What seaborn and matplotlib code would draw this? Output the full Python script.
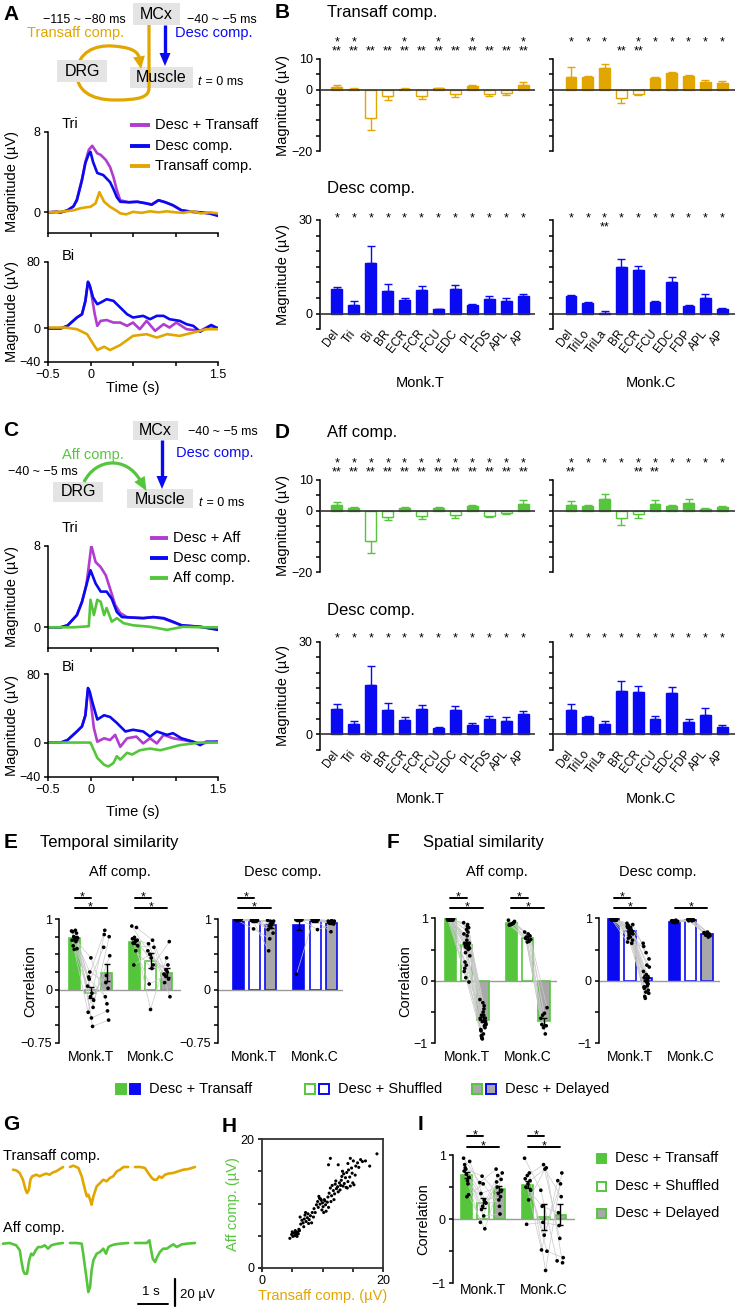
import numpy as np
import pandas as pd
import matplotlib
matplotlib.use("Agg")
import matplotlib.pyplot as plt
import seaborn as sns
from matplotlib.patches import Rectangle, Polygon, PathPatch
from matplotlib.path import Path
import matplotlib.transforms as mtransforms

# ======================= DATA =======================
# Panel A traces (time s, magnitude uV)
A_tri_sum_t = [-0.5,-0.4,-0.35,-0.27,-0.2,-0.16,-0.1,-0.06,-0.02,0.02,0.08,0.12,0.18,0.23,0.27,0.31,0.35,0.45,0.55,0.65,0.72,0.8,0.88,0.97,1.07,1.2,1.29,1.4,1.5]
A_tri_sum_v = [0.0,0.05,0.0,0.2,0.6,1.3,3.3,5.0,6.2,6.6,5.85,5.7,5.2,4.5,3.5,2.2,1.2,1.0,1.05,0.9,0.8,1.2,1.0,0.7,0.2,0.05,0.0,-0.1,-0.3]
A_tri_desc_t = [-0.5,-0.4,-0.35,-0.27,-0.2,-0.16,-0.1,-0.06,-0.02,0.0,0.03,0.08,0.15,0.23,0.27,0.31,0.35,0.45,0.55,0.65,0.72,0.8,0.88,0.97,1.07,1.2,1.29,1.4,1.5]
A_tri_desc_v = [0.0,0.05,0.0,0.2,0.6,1.2,3.2,4.9,5.8,6.0,5.0,3.9,3.7,3.0,2.3,1.5,1.05,1.0,1.05,0.9,0.75,1.2,1.0,0.7,0.2,0.05,0.0,-0.1,-0.35]
A_tri_tr_t = [-0.5,-0.3,-0.2,-0.12,-0.05,0.0,0.06,0.105,0.16,0.23,0.3,0.35,0.42,0.5,0.6,0.7,0.8,0.9,1.0,1.09,1.2,1.3,1.4,1.5]
A_tri_tr_v = [0.0,0.1,0.2,0.4,0.5,0.55,0.9,2.0,1.05,0.55,0.2,-0.1,-0.2,0.05,-0.05,0.1,0.0,0.1,0.0,-0.05,0.1,-0.1,0.0,-0.1]
A_bi_sum_t = [-0.5,-0.35,-0.27,-0.16,-0.1,-0.06,-0.03,0.0,0.05,0.08,0.12,0.19,0.27,0.35,0.43,0.5,0.58,0.66,0.76,0.86,0.93,1.01,1.13,1.29,1.4,1.5]
A_bi_sum_v = [0,0,3,13,17,33,55,48,17,3,9,10,7,7,3,7,-1,9,-3,5,1,7,-1,-3,3,0]
A_bi_desc_t = [-0.5,-0.35,-0.27,-0.16,-0.1,-0.06,-0.03,-0.01,0.03,0.08,0.12,0.19,0.27,0.35,0.43,0.5,0.62,0.7,0.78,0.86,0.93,1.05,1.13,1.21,1.29,1.36,1.42,1.5]
A_bi_desc_v = [0,0,3,13,17,33,56,52,37,29,31,35,33,25,17,13,15,11,15,15,11,9,5,3,-4,0,4,0]
A_bi_tr_t = [-0.5,-0.3,-0.16,-0.04,0.04,0.08,0.16,0.23,0.35,0.5,0.66,0.78,0.9,1.05,1.21,1.36,1.5]
A_bi_tr_v = [1,1,-1,-7,-20,-26,-22,-26,-20,-9,-7,-11,-7,-9,-5,-1,-1]

# Panel C traces
C_tri_sum_t = [-0.5,-0.35,-0.27,-0.16,-0.1,-0.05,-0.02,0.01,0.06,0.12,0.18,0.23,0.29,0.35,0.43,0.5,0.62,0.74,0.86,0.97,1.07,1.29,1.5]
C_tri_sum_v = [0,0,0.2,1.2,2.5,4.1,6.0,8.0,6.4,5.9,5.1,3.8,2.2,1.4,1.0,0.95,0.9,1.0,0.85,0.5,0.2,0.05,-0.2]
C_tri_desc_t = [-0.5,-0.35,-0.27,-0.16,-0.1,-0.05,0.0,0.06,0.12,0.19,0.25,0.31,0.37,0.5,0.62,0.74,0.86,0.97,1.07,1.29,1.5]
C_tri_desc_v = [0,0,0.2,1.2,2.5,4.1,5.6,4.3,3.5,3.5,2.8,1.5,1.0,0.95,0.9,1.0,0.9,0.55,0.2,0.05,-0.25]
C_tri_af_t = [-0.5,-0.2,-0.02,0.0,0.04,0.08,0.12,0.16,0.19,0.25,0.31,0.39,0.5,0.7,0.9,1.09,1.3,1.5]
C_tri_af_v = [0,0,0.1,2.7,1.2,2.7,2.5,1.2,1.9,0.55,0.9,0.4,0.2,0.05,-0.25,0.05,0.0,0.0]
C_bi_sum_t = [-0.5,-0.35,-0.27,-0.16,-0.1,-0.06,-0.03,-0.01,0.04,0.08,0.16,0.23,0.29,0.35,0.43,0.54,0.62,0.7,0.78,0.86,0.97,1.09,1.29,1.5]
C_bi_sum_v = [0,0,3,13,19,32,62,58,17,1,5,3,9,-5,5,7,-1,5,-1,9,5,3,-1,1]
C_bi_desc_t = [-0.5,-0.35,-0.27,-0.16,-0.1,-0.06,-0.03,-0.01,0.02,0.08,0.16,0.23,0.31,0.41,0.5,0.62,0.7,0.78,0.9,0.97,1.07,1.21,1.29,1.36,1.5]
C_bi_desc_v = [0,0,3,13,19,32,64,60,48,27,32,30,23,13,15,13,7,13,9,11,5,1,-3,1,1]
C_bi_af_t = [-0.5,-0.1,0.0,0.04,0.08,0.16,0.21,0.27,0.31,0.35,0.43,0.49,0.58,0.7,0.82,0.9,1.05,1.29,1.5]
C_bi_af_v = [0,0,0,-9,-18,-26,-28,-24,-16,-20,-12,-14,-9,-7,-9,-7,-3,0,0]

# Panels B / D (muscle bars)
muscles_T = ['Del','Tri','Bi','BR','ECR','FCR','FCU','EDC','PL','FDS','APL','AP']
muscles_C = ['Del','TriLo','TriLa','BR','ECR','FCU','EDC','FDP','APL','AP']
B_tr_T = [0.8,0.3,-9.4,-2.2,0.3,-2.1,0.5,-1.5,1.2,-1.5,-1.2,1.4]
B_tr_T_err = [0.8,0.2,3.8,1.2,0.4,0.8,0.2,0.9,0.4,0.5,0.5,1.0]
B_tr_C = [4.1,4.1,7.2,-2.7,-1.3,3.9,5.4,4.3,2.6,2.3]
B_tr_C_err = [3.4,0.2,1.2,1.8,0.6,0.2,0.2,0.4,0.4,0.6]
B_de_T = [7.8,2.9,16.1,7.4,4.3,7.7,1.4,7.8,2.7,4.8,4.0,5.6]
B_de_T_err = [0.9,1.2,5.7,2.0,0.8,1.3,0.2,1.3,0.5,0.9,0.9,0.7]
B_de_C = [5.6,3.5,0.3,15.0,13.9,3.9,10.2,2.5,4.9,1.6]
B_de_C_err = [0.4,0.3,0.5,2.4,1.3,0.3,1.7,0.4,1.5,0.2]
D_af_T = [1.8,0.9,-9.9,-2.0,0.9,-1.8,0.9,-1.4,1.4,-1.6,-0.8,2.2]
D_af_T_err = [1.0,0.3,3.8,1.1,0.3,0.8,0.3,0.9,0.6,0.4,0.3,1.3]
D_af_C = [1.8,1.6,3.8,-2.3,-1.2,2.3,1.6,2.5,0.6,1.2]
D_af_C_err = [1.5,0.3,1.6,2.4,1.2,1.2,0.4,1.3,0.4,0.5]
D_de_T = [8.2,3.2,16.1,7.9,4.6,8.1,1.9,7.9,3.1,5.0,4.3,6.5]
D_de_T_err = [1.5,1.1,5.9,2.2,0.9,1.4,0.4,1.4,0.7,0.9,1.3,0.9]
D_de_C = [7.9,5.5,3.3,14.1,13.8,5.0,13.5,4.0,6.4,2.4]
D_de_C_err = [2.0,0.5,1.1,3.2,1.9,0.9,1.8,0.9,2.0,0.5]
# significance marks (indices of muscles)
B_tr_T_s1 = [0,1,4,6,8,11]; B_tr_T_s2 = list(range(12))
B_tr_C_s1 = [0,1,2,4,5,6,7,8,9]; B_tr_C_s2 = [3,4]
B_de_T_s1 = list(range(12)); B_de_T_s2 = []
B_de_C_s1 = list(range(10)); B_de_C_s2 = [2]
D_af_T_s1 = list(range(12)); D_af_T_s2 = list(range(12))
D_af_C_s1 = list(range(10)); D_af_C_s2 = [0,4,5]
D_de_T_s1 = list(range(12)); D_de_C_s1 = list(range(10))

# Panels E / F / I (similarity)
monks = ['Monk.T', 'Monk.C']
conds = ['Desc + Transaff', 'Desc + Shuffled', 'Desc + Delayed']
E_aff_mean = [[0.73,-0.04,0.24],[0.68,0.41,0.24]]
E_aff_se = [[0.03,0.08,0.12],[0.04,0.11,0.06]]
E_aff_pts = [[[0.83,0.84,0.82,0.80,0.75,0.73,0.72,0.70,0.68,0.62,0.58,0.57],
              [0.05,-0.40,0.18,-0.52,0.25,-0.15,0.45,-0.32,-0.05,0.15,-0.25,-0.10],
              [0.60,-0.30,0.84,-0.43,0.10,0.48,-0.20,0.78,0.02,-0.10,0.75,0.20]],
             [[0.90,0.88,0.74,0.72,0.70,0.68,0.66,0.62,0.55,0.35],
              [0.55,0.70,-0.28,0.65,0.35,0.45,0.08,0.60,0.30,0.50],
              [0.22,0.15,0.45,0.10,0.68,0.25,0.20,-0.10,0.35,0.28]]]
E_desc_mean = [[0.99,0.97,0.91],[0.91,0.97,0.95]]
E_desc_se = [[0.003,0.01,0.04],[0.07,0.014,0.015]]
E_desc_pts = [[[1.0,0.99,1.0,0.99,0.98,1.0,0.99,0.99,1.0,0.98,0.99,1.0],
               [0.98,0.97,0.99,0.98,0.86,0.98,0.97,0.99,0.98,0.97,0.98,0.99],
               [0.98,0.92,0.55,0.95,0.72,0.97,0.88,0.85,0.96,0.90,0.80,0.97]],
              [[0.99,0.98,0.99,0.22,0.99,1.0,0.98,0.99,0.99,0.98],
               [0.99,0.98,0.99,0.97,0.85,0.99,0.98,0.99,0.98,0.99],
               [0.97,0.96,0.82,0.95,0.93,0.98,0.96,0.97,0.95,0.94]]]
F_aff_mean = [[0.99,0.57,-0.62],[0.92,0.69,-0.65]]
F_aff_se = [[0.003,0.05,0.04],[0.01,0.02,0.05]]
F_aff_pts = [[[0.99,0.98,1.0,0.97,0.99,0.98,0.99,1.0,0.97,0.98,0.99,0.98,1.0,0.99,0.97,0.98,0.99,1.0,0.98,0.97,0.99,0.98,0.99,0.98],
              [0.93,0.45,0.87,0.6,0.2,0.82,0.55,0.75,0.05,0.9,0.52,0.3,0.65,0.85,0.15,0.58,0.78,0.4,0.55,0.72,-0.02,0.6,0.25,0.5],
              [-0.3,-0.9,-0.55,-0.65,-0.8,-0.35,-0.72,-0.6,-0.92,-0.45,-0.68,-0.88,-0.5,-0.75,-0.62,-0.93,-0.4,-0.7,-0.55,-0.85,-0.6,-0.78,-0.65,-0.72]],
             [[0.97,0.95,0.93,0.92,0.91,0.90,0.90,0.89],
              [0.78,0.66,0.72,0.63,0.75,0.62,0.70,0.68],
              [-0.6,-0.43,-0.72,-0.85,-0.52,-0.75,-0.55,-0.70]]]
F_desc_mean = [[0.99,0.79,0.05],[0.94,0.97,0.745]]
F_desc_se = [[0.003,0.02,0.05],[0.005,0.003,0.01]]
F_desc_pts = [[[0.99,1.0,0.98,0.99,0.97,1.0,0.99,0.98,0.99,1.0,0.97,0.99,0.98,1.0,0.99,0.98,0.97,0.99,1.0,0.98,0.99,0.97,0.98,0.99],
               [0.92,0.78,0.85,0.65,0.88,0.8,0.6,0.87,0.73,0.82,0.9,0.68,0.85,0.77,0.62,0.83,0.8,0.75,0.88,0.7,0.79,0.85,0.82,0.76],
               [0.6,-0.1,0.25,-0.2,0.05,0.45,-0.05,0.15,-0.28,0.02,0.35,-0.12,0.1,-0.15,0.55,0.0,-0.08,0.22,-0.25,-0.02,0.05,-0.1,-0.18,-0.05]],
              [[0.96,0.95,0.94,0.97,0.93,0.95,0.96,0.94],
               [0.98,0.97,0.98,0.96,0.97,0.98,0.97,0.96],
               [0.77,0.72,0.75,0.70,0.78,0.74,0.73,0.76]]]
I_mean = [[0.69,0.25,0.47],[0.54,0.03,0.07]]
I_se = [[0.05,0.08,0.05],[0.06,0.2,0.16]]
I_pts = [[[0.95,0.60,0.85,0.38,0.78,0.90,0.35,0.75,0.55,0.80,0.65,0.70],
          [0.57,0.05,0.40,-0.15,0.67,0.25,0.55,-0.05,0.30,0.15,0.26,0.20],
          [0.78,0.08,0.50,0.62,0.40,0.72,0.20,0.58,0.35,0.68,0.45,0.30]],
         [[0.95,0.72,0.68,0.63,0.60,0.55,0.50,0.45,0.30,-0.08],
          [0.45,-0.8,0.85,-0.48,0.8,-0.25,0.2,-0.5,0.78,-0.05],
          [-0.65,0.72,-0.3,0.6,-0.68,0.55,0.1,-0.6,0.35,-0.1]]]

# Panel G example traces (time s, uV)
G_tr_t = [[0,0.11,0.22,0.33,0.42,0.47,0.53,0.58,0.64,0.78,0.89,1.0,1.11,1.22,1.33,1.44,1.56,1.67],
          [0,0.11,0.28,0.39,0.5,0.56,0.61,0.67,0.72,0.78,0.89,1.0,1.11,1.22,1.33,1.44,1.56,1.67,1.78,1.94],
          [0,0.17,0.33,0.44,0.56,0.63,0.72,0.81,0.89,1.0,1.11,1.28,1.44,1.61,1.78,2.0]]
G_tr_v = [[-2.0,-2.5,-4.4,-9.4,-16.8,-19.3,-16.8,-9.4,-6.9,-5.7,-6.9,-5.7,-4.9,-5.7,-4.0,-3.2,-1.5,0],
          [0,1.0,-0.7,-6.9,-16.8,-21.7,-20.5,-24.2,-27.9,-21.7,-14.3,-11.9,-9.4,-10.6,-8.1,-6.9,-3.2,-2.0,0,0],
          [0,0,-0.7,-4.4,-8.1,-9.4,-9.4,-6.9,-8.1,-5.7,-4.9,-4.4,-3.2,-2.0,-1.5,0]]
G_af_t = [[0,0.22,0.44,0.56,0.61,0.67,0.72,0.8,0.87,0.94,1.0,1.09,1.17,1.28,1.39,1.5,1.61,1.72,1.83,2.0],
          [0,0.22,0.39,0.44,0.5,0.56,0.61,0.67,0.72,0.78,0.89,1.0,1.11,1.2,1.28,1.39,1.5,1.67,1.94],
          [0,0.17,0.39,0.48,0.52,0.59,0.67,0.74,0.83,0.94,1.06,1.17,1.28,1.39,1.56,1.72,2.0]]
G_af_v = [[-0.5,0,-1.7,-5.4,-12.8,-20.2,-22.7,-22.7,-12.8,-7.9,-9.1,-5.4,-3.0,-3.0,-1.7,-4.2,-1.7,-1.0,-0.5,0],
          [0,0,-0.5,-7.9,-17.8,-27.7,-36.3,-32.6,-20.2,-12.8,-7.9,-6.7,-4.2,-7.9,-3.0,-1.7,-1.0,-0.5,0],
          [0,0,0,2.0,-3.0,-11.6,-14.1,-10.4,-6.7,-4.2,-4.2,-2.5,-1.0,-3.0,-1.0,-0.5,0]]

# Panel H scatter (uV)
H_x = [4.6,4.9,5.1,5.3,5.4,5.6,5.7,5.9,6.0,6.2,5.0,5.5,6.1,5.8,
       6.4,6.6,6.8,7.0,7.1,7.3,7.5,7.6,7.8,8.0,8.2,8.3,6.9,7.7,8.5,6.3,7.2,
       8.6,8.8,9.0,9.2,9.3,9.5,9.6,9.8,9.9,10.0,10.1,10.3,10.5,10.6,10.8,9.4,10.2,11.0,10.9,9.7,10.4,
       11.1,11.3,11.5,11.6,11.8,12.0,12.1,12.3,12.5,12.6,12.8,12.9,13.0,11.9,12.2,11.4,
       13.1,13.2,13.4,13.5,13.6,13.8,13.9,14.0,14.2,14.3,14.5,14.6,14.8,15.0,15.2,13.3,14.1,15.4,14.9,
       15.5,15.8,16.0,16.3,16.6,17.1,11.3,14.6,15.1,11.0,12.6,17.8,19.0,14.2,0.0]
H_y = [4.6,5.2,4.9,5.4,5.0,5.5,5.2,5.6,5.3,5.8,5.6,5.8,6.0,4.9,
       6.8,7.4,7.0,7.6,8.2,7.2,7.8,8.4,7.5,8.1,7.0,8.6,6.4,6.9,7.9,7.9,8.6,
       9.2,8.6,9.8,10.3,9.4,10.8,9.9,10.5,9.0,10.1,9.5,10.6,9.8,8.8,10.2,11.1,8.6,9.4,11.0,10.7,10.4,
       11.6,12.4,11.2,12.8,12.0,11.5,13.0,12.3,12.6,11.8,13.2,12.1,12.8,10.6,13.5,10.3,
       13.6,14.2,12.7,14.6,13.1,14.0,12.5,14.8,13.4,15.2,14.1,12.7,15.5,13.2,12.9,15.0,12.4,14.4,14.7,
       15.8,16.3,15.6,16.8,16.5,16.6,17.0,17.0,16.6,16.0,16.0,15.8,17.7,16.2,0.0]

# ======================= STYLE =======================
ORANGE = '#E2A600'
BLUE = '#0A0AF2'
PURPLE = '#B03CD0'
GREEN = '#55C63C'
GRAYBAR = '#A8A8A8'
BOXGRAY = '#E4E4E4'

sns.set_theme(style='ticks')
plt.rcParams['font.family'] = ['Liberation Sans', 'DejaVu Sans']
plt.rcParams.update({
    'axes.linewidth': 1.1, 'axes.edgecolor': 'black',
    'xtick.major.width': 1.1, 'ytick.major.width': 1.1,
    'xtick.minor.width': 1.1, 'ytick.minor.width': 1.1,
    'xtick.major.size': 3.2, 'ytick.major.size': 3.2,
    'xtick.minor.size': 3.2, 'ytick.minor.size': 3.2,
    'xtick.labelsize': 9, 'ytick.labelsize': 9,
    'xtick.color': 'black', 'ytick.color': 'black',
    'xtick.major.pad': 2, 'ytick.major.pad': 2,
    'text.color': 'black', 'axes.labelcolor': 'black',
})

W, H = 738, 1309
fig = plt.figure(figsize=(W / 100, H / 100), dpi=100)
fig.patch.set_facecolor('white')

ov = fig.add_axes([0, 0, 1, 1], zorder=10)
ov.set_xlim(0, W); ov.set_ylim(H, 0); ov.axis('off'); ov.patch.set_alpha(0)


def add_ax(x0, y0, x1, y1):
    a = fig.add_axes([x0 / W, 1 - y1 / H, (x1 - x0) / W, (y1 - y0) / H])
    a.patch.set_alpha(0)
    return a


def fy(ypx):
    return 1 - ypx / H


def txt(x, y, s, size=10.5, color='black', ha='left', va='center', **kw):
    ov.text(x, y, s, fontsize=size, color=color, ha=ha, va=va, zorder=6, **kw)


def star(ax, x, ypx, s, size=9):
    tr = mtransforms.blended_transform_factory(ax.transData, fig.transFigure)
    ax.text(x, fy(ypx + 0.57 * size * 100 / 72), s, transform=tr, ha='center',
            va='baseline', fontsize=size, clip_on=False)


def star_stack(ax, x, y1px, s, size=9, ls=0.70):
    # one text holding both rows of significance marks
    tr = mtransforms.blended_transform_factory(ax.transData, fig.transFigure)
    ax.text(x, fy(y1px - 0.15 * size * 100 / 72), s, transform=tr, ha='center',
            va='top', fontsize=size, linespacing=ls, clip_on=False)


def gbox(x0, y0, x1, y1, z=1):
    ov.add_patch(Rectangle((x0, y0), x1 - x0, y1 - y0, facecolor=BOXGRAY, edgecolor='none', zorder=z))


def head(tip, base, hw, color):
    tx, ty = tip; bx, by = base
    dx, dy = tx - bx, ty - by
    L = np.hypot(dx, dy)
    px, py = -dy / L, dx / L
    ov.add_patch(Polygon([[tx, ty], [bx + px * hw, by + py * hw], [bx - px * hw, by - py * hw]],
                         closed=True, facecolor=color, edgecolor='none', zorder=3))


def letter(x, y, s):
    txt(x, y, s, size=15, weight='bold', va='center')


# ---------------- trace panels ----------------
def trace_panel(bx, ylim, yt, ytl, series, xlabels):
    ax = add_ax(*bx)
    for t, v, c in series:
        sns.lineplot(x=t, y=v, ax=ax, color=c, linewidth=1.9, estimator=None, sort=False)
    ax.set_xlim(-0.5, 1.5); ax.set_ylim(*ylim)
    ax.set_yticks(yt); ax.set_yticklabels(ytl)
    ax.set_xticks([-0.5, 0, 0.5, 1.0, 1.5])
    ax.set_xticklabels(['−0.5', '0', '', '', '1.5'] if xlabels else [])
    ax.tick_params(labelsize=9)
    sns.despine(ax=ax)
    ax.set_xlabel(''); ax.set_ylabel('')
    return ax


trace_panel((48, 131.7, 218, 232.5), (-2, 8), [0, 8], ['0', '8'],
            [(A_tri_sum_t, A_tri_sum_v, PURPLE), (A_tri_desc_t, A_tri_desc_v, BLUE), (A_tri_tr_t, A_tri_tr_v, ORANGE)], False)
trace_panel((48, 261.7, 218, 361.7), (-40, 80), [-40, 0, 80], ['−40', '0', '80'],
            [(A_bi_sum_t, A_bi_sum_v, PURPLE), (A_bi_desc_t, A_bi_desc_v, BLUE), (A_bi_tr_t, A_bi_tr_v, ORANGE)], True)
trace_panel((48, 545.7, 218, 647.7), (-2, 8), [0, 8], ['0', '8'],
            [(C_tri_sum_t, C_tri_sum_v, PURPLE), (C_tri_desc_t, C_tri_desc_v, BLUE), (C_tri_af_t, C_tri_af_v, GREEN)], False)
trace_panel((48, 674.3, 218, 776.7), (-40, 80), [-40, 0, 80], ['−40', '0', '80'],
            [(C_bi_sum_t, C_bi_sum_v, PURPLE), (C_bi_desc_t, C_bi_desc_v, BLUE), (C_bi_af_t, C_bi_af_v, GREEN)], True)


# ---------------- muscle bar panels ----------------
def muscle_panel(bx, xlim, ylim, names, vals, errs, color, major, majl, minor, xlabels, s1, s2, y1):
    ax = add_ax(*bx)
    sns.barplot(x=names, y=vals, order=names, ax=ax, color=color, saturation=1,
                width=0.65, errorbar=None)
    for p, v in zip(ax.patches, vals):
        p.set_edgecolor(color); p.set_linewidth(1.0)
        p.set_facecolor('white' if v < 0 else color)
    lo = [e if v < 0 else 0 for v, e in zip(vals, errs)]
    hi = [e if v >= 0 else 0 for v, e in zip(vals, errs)]
    ax.errorbar(np.arange(len(vals)), vals, yerr=[lo, hi], fmt='none', ecolor=color,
                elinewidth=1.0, capsize=2.6, capthick=1.0, zorder=0.5)
    ax.axhline(0, color='#333333', lw=1.2, zorder=3)
    ax.set_xlim(*xlim); ax.set_ylim(*ylim)
    ax.set_yticks(major); ax.set_yticklabels(majl)
    ax.set_yticks(minor, minor=True)
    for s in ['top', 'right', 'bottom']:
        ax.spines[s].set_visible(False)
    ax.tick_params(axis='x', length=0, pad=1.5)
    ax.tick_params(axis='y', labelsize=9)
    ax.set_xticks(range(len(names)))
    if xlabels:
        ax.set_xticklabels(names, rotation=52, ha='right', va='center', rotation_mode='anchor', fontsize=8.5)
    else:
        ax.set_xticklabels([])
    ax.set_xlabel(''); ax.set_ylabel('')
    for i in range(len(names)):
        l1 = '*' if i in s1 else ''
        l2 = '**' if i in s2 else ''
        if not l1 and not l2:
            continue
        s = l1 if not l2 else (l1 if l1 else ' ') + '\n' + l2
        star_stack(ax, i, y1, s)
    return ax


XT = (-1.0, 11.7); XC = (-1.07, 9.76)
mn_tr = [-15, -10, -5, 5]
mn_de = [-5, 5, 10, 15, 20, 25]
muscle_panel((320, 59, 535, 151), XT, (-20, 10), muscles_T, B_tr_T, B_tr_T_err, ORANGE,
             [-20, 0, 10], ['−20', '0', '10'], mn_tr, False, B_tr_T_s1, B_tr_T_s2, 38)
muscle_panel((553, 59, 735, 151), XC, (-20, 10), muscles_C, B_tr_C, B_tr_C_err, ORANGE,
             [-20, 0, 10], ['', '', ''], mn_tr, False, B_tr_C_s1, B_tr_C_s2, 38)
muscle_panel((320, 220, 535, 329.3), XT, (-5, 30), muscles_T, B_de_T, B_de_T_err, BLUE,
             [0, 30], ['0', '30'], mn_de, True, B_de_T_s1, B_de_T_s2, 214)
muscle_panel((553, 220, 735, 329.3), XC, (-5, 30), muscles_C, B_de_C, B_de_C_err, BLUE,
             [0, 30], ['', ''], mn_de, True, B_de_C_s1, B_de_C_s2, 214)
muscle_panel((320, 480, 535, 572.3), XT, (-20, 10), muscles_T, D_af_T, D_af_T_err, GREEN,
             [-20, 0, 10], ['−20', '0', '10'], mn_tr, False, D_af_T_s1, D_af_T_s2, 459)
muscle_panel((553, 480, 735, 572.3), XC, (-20, 10), muscles_C, D_af_C, D_af_C_err, GREEN,
             [-20, 0, 10], ['', '', ''], mn_tr, False, D_af_C_s1, D_af_C_s2, 459)
muscle_panel((320, 641.7, 535, 749.7), XT, (-5, 30), muscles_T, D_de_T, D_de_T_err, BLUE,
             [0, 30], ['0', '30'], mn_de, True, D_de_T_s1, [], 634)
muscle_panel((553, 641.7, 735, 749.7), XC, (-5, 30), muscles_C, D_de_C, D_de_C_err, BLUE,
             [0, 30], ['', ''], mn_de, True, D_de_C_s1, [], 634)


# ---------------- similarity panels ----------------
def sim_panel(bx, xlim, ylim, major, majl, minor, color, means, ses, pts, sigs, sig_y, pad=5):
    ax = add_ax(*bx)
    df = pd.DataFrame({'monk': [m for m in monks for c in conds],
                       'cond': conds * 2,
                       'value': [means[mi][ci] for mi in range(2) for ci in range(3)]})
    fills = [color, 'white', GRAYBAR]
    sns.barplot(data=df, x='monk', y='value', hue='cond', order=monks, hue_order=conds, ax=ax,
                errorbar=None, width=0.8, gap=0.31, legend=False, palette=fills, saturation=1)
    centers = np.zeros((2, 3))
    for ci, cont in enumerate(ax.containers):
        for mi, p in enumerate(cont):
            p.set_edgecolor(color); p.set_linewidth(1.2); p.set_facecolor(fills[ci])
            centers[mi, ci] = p.get_x() + p.get_width() / 2
    ax.axhline(0, color='#9A9A9A', lw=1.0, zorder=1.5)
    for mi in range(2):
        arr = [np.asarray(pts[mi][ci], dtype=float) for ci in range(3)]
        n = len(arr[0])
        jit = (((np.arange(n) * 7) % n) / max(n - 1, 1) - 0.5) * 0.10
        xs = [centers[mi, ci] + jit for ci in range(3)]
        for k in range(n):
            ax.plot([xs[0][k], xs[1][k], xs[2][k]], [arr[0][k], arr[1][k], arr[2][k]],
                    color='#C9C9C9', lw=0.5, zorder=3)
        for ci in range(3):
            sns.scatterplot(x=xs[ci], y=arr[ci], ax=ax, s=7, color='black', edgecolor='none',
                            zorder=5, legend=False)
        ax.errorbar(centers[mi], means[mi], yerr=ses[mi], fmt='none', ecolor='black',
                    elinewidth=1.0, capsize=2, capthick=1.0, zorder=6)
    tr = mtransforms.blended_transform_factory(ax.transData, fig.transFigure)
    for (mi, a, b, which) in sigs:
        yp = sig_y[which]
        x0, x1 = centers[mi, a], centers[mi, b]
        ax.plot([x0, x1], [fy(yp), fy(yp)], transform=tr, color='black', lw=1.4, clip_on=False)
        star(ax, (x0 + x1) / 2, yp - 5, '*')
    ax.set_xlim(*xlim); ax.set_ylim(*ylim)
    ax.set_yticks(major); ax.set_yticklabels(majl)
    ax.set_yticks(minor, minor=True)
    for s in ['top', 'right', 'bottom']:
        ax.spines[s].set_visible(False)
    ax.tick_params(axis='x', length=0, pad=pad, labelsize=10)
    ax.tick_params(axis='y', labelsize=9)
    ax.set_xlabel(''); ax.set_ylabel('')
    return ax


SIGS_BOTH = [(0, 0, 1, 0), (0, 0, 2, 1), (1, 0, 1, 0), (1, 0, 2, 1)]
sim_panel((59.3, 919, 181, 1042.7), (-0.52, 1.5), (-0.75, 1), [-0.75, 0, 1], ['−0.75', '0', '1'],
          [-0.5, -0.25, 0.25, 0.5, 0.75], GREEN, E_aff_mean, E_aff_se, E_aff_pts, SIGS_BOTH, (898, 908))
sim_panel((218, 919, 343, 1042.7), (-0.6, 1.46), (-0.75, 1), [-0.75, 0, 1], ['−0.75', '0', '1'],
          [-0.5, -0.25, 0.25, 0.5, 0.75], BLUE, E_desc_mean, E_desc_se, E_desc_pts,
          [(0, 0, 1, 0), (0, 0, 2, 1)], (898, 908))
sim_panel((435, 918.3, 557, 1043.3), (-0.52, 1.48), (-1, 1), [-1, 0, 1], ['−1', '0', '1'],
          [-0.5, 0.5], GREEN, F_aff_mean, F_aff_se, F_aff_pts, SIGS_BOTH, (898, 908))
sim_panel((599, 918.3, 720, 1043.3), (-0.51, 1.48), (-1, 1), [-1, 0, 1], ['−1', '0', '1'],
          [-0.5, 0.5], BLUE, F_desc_mean, F_desc_se, F_desc_pts,
          [(0, 0, 1, 0), (0, 0, 2, 1), (1, 0, 2, 1)], (898, 908))
sim_panel((453, 1155, 575, 1283.3), (-0.49, 1.51), (-1, 1), [-1, 0, 1], ['−1', '0', '1'],
          [-0.5, 0.5], GREEN, I_mean, I_se, I_pts, SIGS_BOTH, (1136, 1147), pad=0)

# ---------------- G ----------------
axG = add_ax(0, 1150, 200, 1309)
axG.axis('off')
PXS = 30.0     # px per second
PXU = 1.35     # px per uV
axG.set_xlim(0, 200 / PXS)
axG.set_ylim(-(1309 - 1167) / PXU, (1167 - 1150) / PXU)
G_OFF = -(1243 - 1167) / PXU
for t, v, x0 in zip(G_tr_t, G_tr_v, [13, 70, 135]):
    sns.lineplot(x=np.asarray(t) + x0 / PXS, y=v, ax=axG, color=ORANGE, linewidth=1.9, estimator=None, sort=False)
for t, v, x0 in zip(G_af_t, G_af_v, [3, 70, 135]):
    sns.lineplot(x=np.asarray(t) + x0 / PXS, y=np.asarray(v) + G_OFF, ax=axG, color=GREEN, linewidth=1.9, estimator=None, sort=False)
ybar = -(1304 - 1167) / PXU
axG.plot([138 / PXS, 138 / PXS + 1.0], [ybar, ybar], color='black', lw=1.4)
yb0 = -(1306 - 1167) / PXU
axG.plot([175 / PXS, 175 / PXS], [yb0, yb0 + 20], color='black', lw=1.6)

# ---------------- H ----------------
axH = add_ax(262, 1139, 383, 1268)
sns.scatterplot(x=H_x, y=H_y, ax=axH, s=5, color='black', edgecolor='none', clip_on=False)
axH.set_xlim(0, 20); axH.set_ylim(0, 20)
axH.set_xticks([0, 20]); axH.set_yticks([0, 20])
axH.set_xticks([5, 10, 15], minor=True); axH.set_yticks([5, 10, 15], minor=True)
for s in axH.spines.values():
    s.set_linewidth(1.3); s.set_color('#333333')
axH.tick_params(labelsize=9)
axH.set_xlabel(''); axH.set_ylabel('')

# ======================= OVERLAY: diagrams & text =======================
# --- A diagram ---
letter(3, 14, 'A')
gbox(133, 3, 180, 25)
gbox(130, 67, 193, 88, z=1)
loop_v = [(149, 25), (149, 88), (149, 97), (140, 100), (115, 100), (90, 100), (76, 90), (77, 72),
          (78, 52), (95, 45), (112, 46), (128, 47), (137, 50), (139, 57)]
loop_c = [Path.MOVETO, Path.LINETO] + [Path.CURVE4] * 12
ov.add_patch(PathPatch(Path(loop_v, loop_c), facecolor='none', edgecolor=ORANGE, lw=2.3, zorder=2))
head((141, 69), (139, 56.5), 6, ORANGE)
gbox(57, 60, 107, 82, z=2.5)
ov.plot([165, 165], [25, 54], color=BLUE, lw=2.4, solid_capstyle='butt', zorder=3)
head((165, 66), (165, 53), 5.5, BLUE)
txt(156.5, 14.5, 'MCx', 11.5, ha='center')
txt(82, 71, 'DRG', 11.5, ha='center')
txt(161.5, 78, 'Muscle', 11.5, ha='center')
txt(43, 20, '−115 ~ −80 ms', 9)
txt(27, 33, 'Transaff comp.', 10.5, ORANGE)
txt(187, 20, '−40 ~ −5 ms', 9)
txt(175, 33, 'Desc comp.', 10.5, BLUE)
txt(197, 82, 't', 9, style='italic')
txt(202, 82, ' = 0 ms', 9)
txt(62, 124, 'Tri', 10.5)
txt(62, 256, 'Bi', 10.5)
for yy, c, lab in [(125, PURPLE, 'Desc + Transaff'), (146, BLUE, 'Desc comp.'), (166, ORANGE, 'Transaff comp.')]:
    ov.plot([130, 150], [yy, yy], color=c, lw=2.8, solid_capstyle='butt', zorder=5)
    txt(155, yy, lab, 10.5)
txt(12, 182, 'Magnitude (µV)', 10.5, ha='center', rotation=90)
txt(12, 311.7, 'Magnitude (µV)', 10.5, ha='center', rotation=90)
txt(133, 388, 'Time (s)', 10.5, ha='center')

# --- B ---
letter(275, 12, 'B')
txt(327, 13, 'Transaff comp.', 12)
txt(327, 188, 'Desc comp.', 12)
txt(283, 105, 'Magnitude (µV)', 10.5, ha='center', rotation=90)
txt(283, 274.6, 'Magnitude (µV)', 10.5, ha='center', rotation=90)
txt(420, 383, 'Monk.T', 10.5, ha='center')
txt(651, 383, 'Monk.C', 10.5, ha='center')

# --- C diagram ---
letter(3, 430, 'C')
gbox(133, 421, 178, 440)
gbox(53, 482, 103, 502)
gbox(127, 489, 193, 508)
arc_v = [(84, 482), (96, 458), (126, 456), (140, 480)]
arc_c = [Path.MOVETO, Path.CURVE4, Path.CURVE4, Path.CURVE4]
ov.add_patch(PathPatch(Path(arc_v, arc_c), facecolor='none', edgecolor=GREEN, lw=2.3, zorder=2))
head((146.5, 491), (139.5, 479), 6, GREEN)
ov.plot([162, 162], [440, 477], color=BLUE, lw=2.4, solid_capstyle='butt', zorder=3)
head((162, 489), (162, 476), 5.5, BLUE)
txt(155.5, 430.5, 'MCx', 11.5, ha='center')
txt(78, 492, 'DRG', 11.5, ha='center')
txt(160, 499, 'Muscle', 11.5, ha='center')
txt(188, 432, '−40 ~ −5 ms', 9)
txt(176, 453, 'Desc comp.', 10.5, BLUE)
txt(62, 455, 'Aff comp.', 10.5, GREEN)
txt(8, 472, '−40 ~ −5 ms', 9)
txt(198, 503, 't', 9, style='italic')
txt(203, 503, ' = 0 ms', 9)
txt(62, 528, 'Tri', 10.5)
txt(62, 667, 'Bi', 10.5)
for yy, c, lab in [(538, PURPLE, 'Desc + Aff'), (558, BLUE, 'Desc comp.'), (578, GREEN, 'Aff comp.')]:
    ov.plot([150, 168], [yy, yy], color=c, lw=2.8, solid_capstyle='butt', zorder=5)
    txt(173, yy, lab, 10.5)
txt(12, 596.7, 'Magnitude (µV)', 10.5, ha='center', rotation=90)
txt(12, 725.5, 'Magnitude (µV)', 10.5, ha='center', rotation=90)
txt(133, 812, 'Time (s)', 10.5, ha='center')

# --- D ---
letter(275, 432, 'D')
txt(327, 432, 'Aff comp.', 12)
txt(327, 610, 'Desc comp.', 12)
txt(283, 526, 'Magnitude (µV)', 10.5, ha='center', rotation=90)
txt(283, 695.7, 'Magnitude (µV)', 10.5, ha='center', rotation=90)
txt(420, 799, 'Monk.T', 10.5, ha='center')
txt(651, 799, 'Monk.C', 10.5, ha='center')

# --- E / F ---
letter(4, 843, 'E')
txt(40, 843, 'Temporal similarity', 12)
txt(120, 872, 'Aff comp.', 10.5, ha='center')
txt(283, 872, 'Desc comp.', 10.5, ha='center')
txt(30, 981, 'Correlation', 10.5, ha='center', rotation=90)
letter(387, 843, 'F')
txt(423, 843, 'Spatial similarity', 12)
txt(497, 872, 'Aff comp.', 10.5, ha='center')
txt(658, 872, 'Desc comp.', 10.5, ha='center')
txt(405, 981, 'Correlation', 10.5, ha='center', rotation=90)


# legend row
def sq(x0, y0, s, face, edge):
    ov.add_patch(Rectangle((x0, y0), s, s, facecolor=face, edgecolor=edge, lw=1.4, zorder=5))


sq(116, 1084, 10, GREEN, GREEN); sq(130, 1084, 10, BLUE, BLUE)
txt(149, 1089, 'Desc + Transaff', 10.5)
sq(305, 1084, 10, 'white', GREEN); sq(319, 1084, 10, 'white', BLUE)
txt(338, 1089, 'Desc + Shuffled', 10.5)
sq(472, 1084, 10, GRAYBAR, GREEN); sq(486, 1084, 10, GRAYBAR, BLUE)
txt(505, 1089, 'Desc + Delayed', 10.5)

# --- G ---
letter(3, 1125, 'G')
txt(3, 1156, 'Transaff comp.', 10.5)
txt(3, 1228, 'Aff comp.', 10.5)
txt(151, 1292, '1 s', 9.5, ha='center')
txt(180, 1295, '20 µV', 9.5)

# --- H ---
letter(222, 1127, 'H')
txt(233, 1204, 'Aff comp. (µV)', 10.5, GREEN, ha='center', rotation=90)
txt(323, 1296, 'Transaff comp. (µV)', 10.5, ORANGE, ha='center')

# --- I ---
letter(418, 1125, 'I')
txt(423, 1219, 'Correlation', 10.5, ha='center', rotation=90)
for yy, face, lab in [(1158, GREEN, 'Desc + Transaff'), (1186, 'white', 'Desc + Shuffled'), (1213, GRAYBAR, 'Desc + Delayed')]:
    sq(597, yy - 4.5, 9, face, GREEN)
    txt(615, yy, lab, 10.5)

fig.savefig('out.png', dpi=100)
